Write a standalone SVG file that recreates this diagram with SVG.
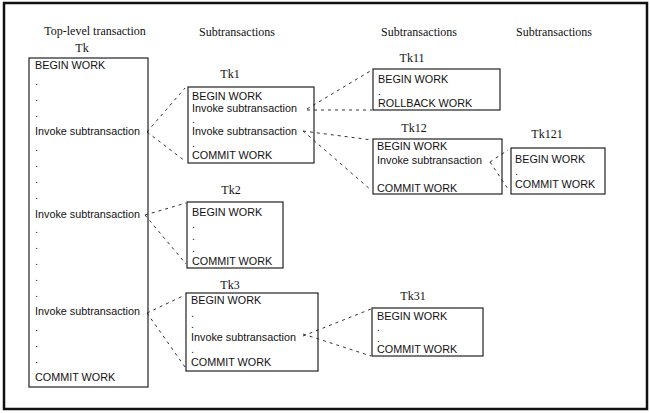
<svg xmlns="http://www.w3.org/2000/svg" width="650" height="413" viewBox="0 0 650 413">
<style>
.frame{fill:none;stroke:#111;stroke-width:2.5}
.box{fill:none;stroke:#222;stroke-width:1.2}
.t{font-family:"Liberation Sans",Arial,sans-serif;font-size:10.8px;fill:#111}
.h{font-family:"Liberation Serif","Times New Roman",serif;font-size:12px;fill:#111;text-anchor:middle}
.c{fill:none;stroke:#333;stroke-width:1;stroke-dasharray:3,4}
</style>
<rect width="650" height="413" fill="#fff"/>
<rect class="frame" x="4" y="3" width="643" height="406"/>
<g id="headers">
<text class="h" x="95" y="35">Top-level transaction</text>
<text class="h" x="237" y="36">Subtransactions</text>
<text class="h" x="419" y="36">Subtransactions</text>
<text class="h" x="554" y="36">Subtransactions</text>
</g>
<g id="connectors">
<path class="c" d="M147,132 L185,88 M147,132 L185,161"/>
<path class="c" d="M145,215 L186,203 M145,215 L186,264"/>
<path class="c" d="M147,313 L185,295 M147,313 L185,367"/>
<path class="c" d="M307,109 L372,70 M307,110 L372,110"/>
<path class="c" d="M303,131 L372,140 M303,131 L371,190"/>
<path class="c" d="M490,162 L508,150 M490,162 L508,189"/>
<path class="c" d="M303,336 L371,309 M303,334 L371,356"/>
</g>
<g id="Tk">
<text class="h" x="82" y="52">Tk</text>
<rect class="box" x="29" y="58" width="119" height="329"/>
<text class="t" x="35" y="69">BEGIN WORK</text>
<text class="t" x="35" y="85">.</text>
<text class="t" x="35" y="101">.</text>
<text class="t" x="35" y="117">.</text>
<text class="t" x="35" y="135">Invoke subtransaction</text>
<text class="t" x="35" y="151">.</text>
<text class="t" x="35" y="167">.</text>
<text class="t" x="35" y="183">.</text>
<text class="t" x="35" y="199">.</text>
<text class="t" x="35" y="218">Invoke subtransaction</text>
<text class="t" x="35" y="233">.</text>
<text class="t" x="35" y="249">.</text>
<text class="t" x="35" y="265">.</text>
<text class="t" x="35" y="281">.</text>
<text class="t" x="35" y="297">.</text>
<text class="t" x="35" y="315">Invoke subtransaction</text>
<text class="t" x="35" y="331">.</text>
<text class="t" x="35" y="347">.</text>
<text class="t" x="35" y="363">.</text>
<text class="t" x="35" y="381">COMMIT WORK</text>
</g>
<g id="Tk1">
<text class="h" x="230" y="78">Tk1</text>
<rect class="box" x="188" y="87" width="126" height="76"/>
<text class="t" x="192" y="100">BEGIN WORK</text>
<text class="t" x="192" y="112">Invoke subtransaction</text>
<text class="t" x="192" y="123">.</text>
<text class="t" x="192" y="135">Invoke subtransaction</text>
<text class="t" x="192" y="147">.</text>
<text class="t" x="192" y="159">COMMIT WORK</text>
</g>
<g id="Tk2">
<text class="h" x="231" y="194">Tk2</text>
<rect class="box" x="187" y="202" width="96" height="66"/>
<text class="t" x="192" y="216">BEGIN WORK</text>
<text class="t" x="192" y="228">.</text>
<text class="t" x="192" y="240">.</text>
<text class="t" x="192" y="252">.</text>
<text class="t" x="192" y="265">COMMIT WORK</text>
</g>
<g id="Tk3">
<text class="h" x="230" y="289">Tk3</text>
<rect class="box" x="186" y="293" width="132" height="78"/>
<text class="t" x="191" y="304">BEGIN WORK</text>
<text class="t" x="191" y="317">.</text>
<text class="t" x="191" y="328">.</text>
<text class="t" x="191" y="341">Invoke subtransaction</text>
<text class="t" x="191" y="353">.</text>
<text class="t" x="191" y="366">COMMIT WORK</text>
</g>
<g id="Tk11">
<text class="h" x="412" y="62">Tk11</text>
<rect class="box" x="373" y="69" width="127" height="41"/>
<text class="t" x="378" y="83">BEGIN WORK</text>
<text class="t" x="378" y="95">.</text>
<text class="t" x="378" y="107">ROLLBACK WORK</text>
</g>
<g id="Tk12">
<text class="h" x="414" y="132">Tk12</text>
<rect class="box" x="373" y="139" width="129" height="55"/>
<text class="t" x="377" y="150">BEGIN WORK</text>
<text class="t" x="377" y="164">Invoke subtransaction</text>
<text class="t" x="377" y="192">COMMIT WORK</text>
</g>
<g id="Tk121">
<text class="h" x="547" y="138">Tk121</text>
<rect class="box" x="511" y="148" width="94" height="46"/>
<text class="t" x="515" y="163">BEGIN WORK</text>
<text class="t" x="515" y="175">.</text>
<text class="t" x="515" y="188">COMMIT WORK</text>
</g>
<g id="Tk31">
<text class="h" x="413" y="300">Tk31</text>
<rect class="box" x="372" y="308" width="111" height="48"/>
<text class="t" x="377" y="320">BEGIN WORK</text>
<text class="t" x="377" y="331">.</text>
<text class="t" x="377" y="342">.</text>
<text class="t" x="377" y="353">COMMIT WORK</text>
</g>
</svg>
